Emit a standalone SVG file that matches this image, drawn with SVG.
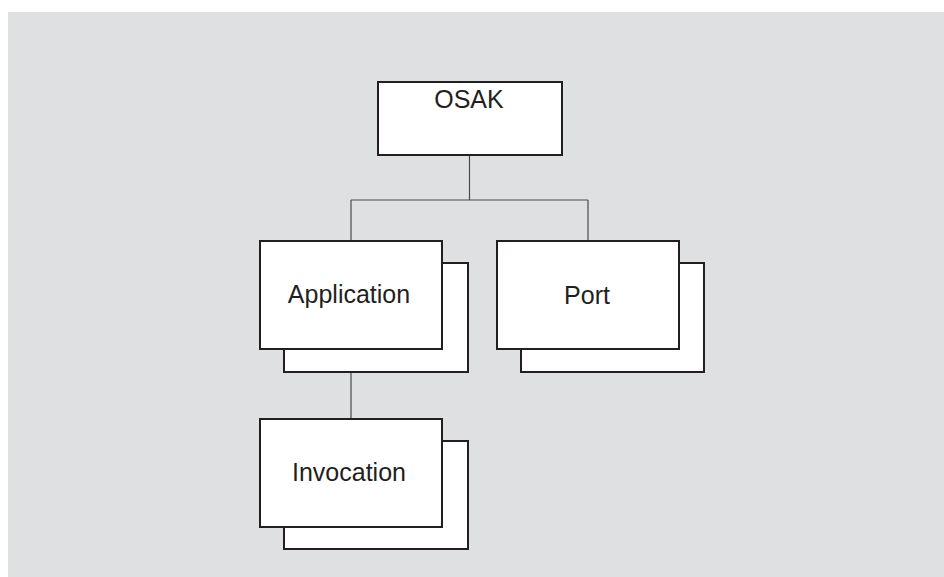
<svg xmlns="http://www.w3.org/2000/svg" width="944" height="577" viewBox="0 0 944 577">
<style>
.box{fill:#fff;stroke:#231f20;stroke-width:2}
.lbl{font-family:"Liberation Sans",Arial,sans-serif;font-size:25px;fill:#231f20;text-anchor:middle}
.conn{stroke:#4a4a4a;stroke-width:1.2;fill:none}
</style>
<rect x="0" y="0" width="944" height="577" fill="#fff"/>
<rect x="8" y="12" width="936" height="565" fill="#dfe0e2"/>
<g id="connectors">
<path class="conn" d="M469.5 155V200M351 200H588M351 200V241M588 200V241M351 372V419"/>
</g>
<g id="osak">
<rect class="box" x="378" y="82" width="184" height="73"/>
<text class="lbl" x="469" y="108">OSAK</text>
</g>
<g id="application">
<rect class="box" x="284" y="263" width="184" height="109"/>
<rect class="box" x="260" y="241" width="182" height="108"/>
<text class="lbl" x="349" y="303">Application</text>
</g>
<g id="port">
<rect class="box" x="521" y="263" width="183" height="109"/>
<rect class="box" x="497" y="241" width="182" height="108"/>
<text class="lbl" x="587" y="304">Port</text>
</g>
<g id="invocation">
<rect class="box" x="284" y="441" width="184" height="108"/>
<rect class="box" x="260" y="419" width="182" height="108"/>
<text class="lbl" x="349" y="481">Invocation</text>
</g>
</svg>
